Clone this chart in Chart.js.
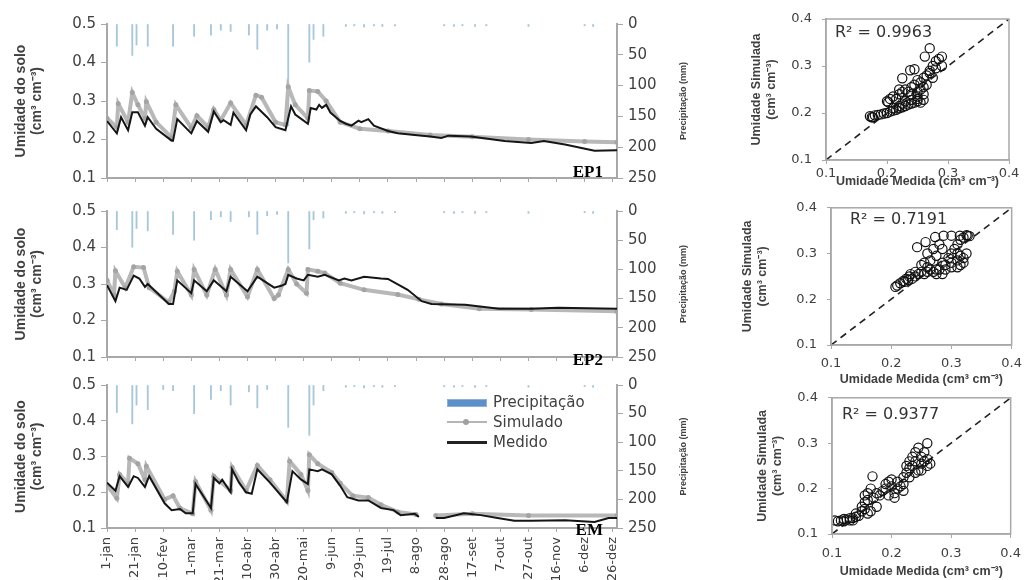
<!DOCTYPE html>
<html lang="pt">
<head>
<meta charset="utf-8">
<title>Umidade do solo simulada e medida</title>
<script src="https://cdn.jsdelivr.net/npm/chart.js@4.4.1/dist/chart.umd.min.js"></script>
<style>
  body { margin: 0; background: #fff; width: 1029px; height: 580px; position: relative; overflow: hidden; }
  .painel { position: absolute; }
  #legenda { position: absolute; left: 447px; top: 392px; font: 15px "DejaVu Sans", sans-serif; color: #404040; }
  #legenda .item { height: 20px; line-height: 20px; display: flex; align-items: center; }
  #legenda .amostra { width: 40px; margin-right: 6px; position: relative; height: 20px; }
  #legenda .chuva::after { content: ""; position: absolute; left: 0; right: 0; top: 7px; height: 6px; background: #5d8fc8; border: 1px solid #8fb0d6; }
  #legenda .sim::before { content: ""; position: absolute; left: 0; right: 0; top: 9px; height: 2px; background: #b5b5b5; }
  #legenda .sim::after { content: ""; position: absolute; left: 16px; top: 7px; width: 6px; height: 6px; border-radius: 50%; background: #a0a0a0; }
  #legenda .med::after { content: ""; position: absolute; left: 0; right: 0; top: 9px; height: 2.5px; background: #222; }
</style>
</head>
<body>
<div class="painel" style="left:0;top:10px;width:700px;height:182px"><canvas id="serieEP1"></canvas></div>
<div class="painel" style="left:0;top:197px;width:700px;height:174px"><canvas id="serieEP2"></canvas></div>
<div class="painel" style="left:0;top:371px;width:700px;height:209px"><canvas id="serieEM"></canvas></div>
<div class="painel" style="left:740px;top:0;width:289px;height:200px"><canvas id="dispEP1"></canvas></div>
<div class="painel" style="left:740px;top:190px;width:289px;height:200px"><canvas id="dispEP2"></canvas></div>
<div class="painel" style="left:740px;top:380px;width:289px;height:200px"><canvas id="dispEM"></canvas></div>
<div id="legenda">
  <div class="item"><span class="amostra chuva"></span>Precipitação</div>
  <div class="item"><span class="amostra sim"></span>Simulado</div>
  <div class="item"><span class="amostra med"></span>Medido</div>
</div>
<script>
// datas do eixo x (a cada 20 dias)
const rotulosDatas = ['1-jan', '21-jan', '10-fev', '1-mar', '21-mar', '10-abr', '30-abr', '20-mai', '9-jun',
  '29-jun', '19-jul', '8-ago', '28-ago', '17-set', '7-out', '27-out', '16-nov', '6-dez', '26-dez'];

// EP1 - umidade medida e simulada (dia do ano, cm3 cm-3)
const ep1MedDias = [0, 7, 10, 15, 18, 22, 27, 29, 35, 46, 47, 50, 60, 64, 72, 76, 81, 83, 88, 90, 99, 102, 106, 114, 120, 127, 131, 134, 143, 145, 149, 151, 153, 156, 159, 166, 170, 174, 179, 181, 186, 190, 200, 207, 219, 230, 238, 243, 259, 283, 302, 311, 326, 347, 363];
const ep1Medido = [0.248, 0.216, 0.258, 0.224, 0.271, 0.271, 0.236, 0.258, 0.228, 0.197, 0.197, 0.253, 0.216, 0.248, 0.220, 0.273, 0.245, 0.250, 0.238, 0.270, 0.224, 0.265, 0.286, 0.258, 0.232, 0.224, 0.286, 0.265, 0.241, 0.282, 0.278, 0.290, 0.282, 0.290, 0.270, 0.248, 0.241, 0.236, 0.249, 0.245, 0.253, 0.236, 0.222, 0.216, 0.212, 0.208, 0.204, 0.210, 0.208, 0.196, 0.191, 0.196, 0.187, 0.171, 0.172];
const ep1SimDias = [0, 7, 8, 15, 18, 22, 27, 28, 35, 46, 49, 60, 64, 72, 76, 81, 88, 99, 106, 110, 120, 127, 129, 134, 143, 144, 150, 156, 166, 180, 200, 230, 260, 300, 340, 363];
const ep1Simulado = [0.255, 0.232, 0.293, 0.245, 0.322, 0.290, 0.255, 0.298, 0.245, 0.205, 0.290, 0.230, 0.262, 0.232, 0.278, 0.250, 0.295, 0.238, 0.315, 0.310, 0.245, 0.238, 0.337, 0.290, 0.255, 0.327, 0.325, 0.300, 0.245, 0.228, 0.222, 0.212, 0.207, 0.200, 0.195, 0.193];
const ep1ChuvaDias = [7, 18, 21, 29, 47, 62, 74, 81, 88, 101, 107, 114, 121, 129, 144, 147, 154, 170, 176, 183, 190, 196, 205, 240, 247, 253, 262, 270, 300, 340, 346];
const ep1Chuva = [36, 51, 34, 36, 36, 20, 18, 10, 12, 18, 41, 10, 8, 165, 62, 25, 20, 4, 3, 5, 3, 4, 3, 3, 4, 3, 4, 3, 4, 3, 4];

// EP2
const ep2MedDias = [0, 6, 9, 14, 19, 23, 27, 29, 44, 47, 50, 60, 62, 71, 76, 85, 88, 100, 107, 119, 124, 127, 129, 135, 140, 143, 150, 155, 165, 169, 174, 183, 195, 200, 214, 224, 231, 255, 279, 302, 321, 363];
const ep2Medido = [0.297, 0.253, 0.290, 0.284, 0.323, 0.315, 0.292, 0.300, 0.245, 0.245, 0.310, 0.275, 0.310, 0.280, 0.310, 0.280, 0.320, 0.280, 0.320, 0.290, 0.295, 0.300, 0.325, 0.315, 0.310, 0.325, 0.320, 0.325, 0.310, 0.315, 0.310, 0.320, 0.315, 0.314, 0.284, 0.253, 0.245, 0.243, 0.232, 0.232, 0.235, 0.232];
const ep2SimDias = [0, 5, 6, 13, 19, 26, 30, 44, 48, 50, 60, 62, 71, 77, 85, 88, 100, 107, 119, 122, 129, 135, 142, 143, 150, 155, 166, 183, 207, 222, 238, 265, 302, 363];
const ep2Simulado = [0.310, 0.270, 0.336, 0.290, 0.347, 0.345, 0.290, 0.250, 0.280, 0.335, 0.270, 0.340, 0.270, 0.340, 0.270, 0.340, 0.265, 0.340, 0.260, 0.270, 0.340, 0.300, 0.275, 0.340, 0.335, 0.330, 0.302, 0.284, 0.271, 0.258, 0.245, 0.232, 0.230, 0.225];
const ep2ChuvaDias = [7, 18, 21, 29, 47, 62, 74, 81, 88, 101, 107, 114, 121, 129, 144, 147, 154, 170, 176, 183, 190, 196, 205, 240, 247, 253, 262, 270, 300, 340, 346];
const ep2Chuva = [32, 62, 30, 34, 40, 50, 15, 10, 18, 10, 40, 8, 6, 89, 65, 15, 12, 4, 3, 5, 3, 4, 3, 3, 4, 3, 4, 3, 4, 3, 4];

// EM (falha de leitura no fim de agosto)
const emMedDias = [0, 6, 9, 15, 19, 22, 27, 30, 41, 46, 52, 56, 61, 63, 74, 76, 80, 82, 88, 89, 94, 99, 103, 107, 116, 128, 132, 138, 143, 144, 150, 153, 160, 166, 171, 179, 186, 195, 204, 209, 219, 222, 228, 234, 240, 254, 266, 278, 290, 302, 326, 347, 357, 363];
const emMedido = [0.227, 0.204, 0.245, 0.215, 0.245, 0.240, 0.215, 0.245, 0.169, 0.150, 0.153, 0.141, 0.141, 0.223, 0.156, 0.240, 0.225, 0.235, 0.200, 0.264, 0.227, 0.200, 0.196, 0.264, 0.227, 0.172, 0.259, 0.236, 0.223, 0.264, 0.259, 0.264, 0.250, 0.218, 0.186, 0.177, 0.177, 0.156, 0.150, 0.136, 0.140, 0.131, null, 0.128, 0.128, 0.141, 0.136, 0.128, 0.120, 0.120, 0.122, 0.117, 0.128, 0.128];
const emSimDias = [0, 7, 9, 15, 16, 22, 27, 28, 41, 47, 52, 61, 63, 74, 76, 88, 89, 99, 107, 116, 128, 130, 138, 143, 144, 150, 160, 166, 175, 186, 195, 207, 220, 228, 234, 260, 300, 363];
const emSimulado = [0.220, 0.183, 0.250, 0.225, 0.295, 0.280, 0.235, 0.273, 0.180, 0.190, 0.155, 0.140, 0.230, 0.150, 0.245, 0.205, 0.270, 0.205, 0.275, 0.235, 0.175, 0.287, 0.250, 0.205, 0.305, 0.280, 0.255, 0.225, 0.190, 0.185, 0.165, 0.145, 0.138, null, 0.135, 0.140, 0.135, 0.135];
const emChuvaDias = [7, 18, 21, 29, 40, 47, 62, 74, 81, 88, 101, 107, 114, 129, 144, 147, 154, 170, 176, 183, 190, 196, 205, 240, 247, 253, 262, 270, 300, 340, 346];
const emChuva = [48, 68, 35, 43, 8, 10, 50, 25, 10, 35, 12, 40, 8, 74, 88, 35, 10, 4, 3, 5, 3, 4, 3, 3, 4, 3, 4, 3, 4, 3, 4];

// dispersão medido x simulado
const dispEP1Medido = [0.172, 0.175, 0.18, 0.185, 0.19, 0.195, 0.20, 0.205, 0.21, 0.21, 0.215, 0.22, 0.22, 0.225, 0.23, 0.235, 0.24, 0.245, 0.25, 0.255, 0.26, 0.25, 0.24, 0.23, 0.225, 0.20, 0.205, 0.21, 0.22, 0.225, 0.23, 0.235, 0.24, 0.245, 0.25, 0.255, 0.26, 0.265, 0.27, 0.275, 0.28, 0.285, 0.29, 0.29, 0.28, 0.27, 0.26, 0.265, 0.275, 0.27, 0.262, 0.245, 0.238, 0.225, 0.202, 0.177, 0.22, 0.215, 0.24, 0.25, 0.255, 0.26, 0.25];
const dispEP1Simulado = [0.193, 0.191, 0.195, 0.196, 0.197, 0.199, 0.20, 0.203, 0.205, 0.21, 0.207, 0.21, 0.215, 0.212, 0.215, 0.218, 0.22, 0.222, 0.225, 0.222, 0.228, 0.23, 0.228, 0.225, 0.22, 0.225, 0.23, 0.235, 0.24, 0.245, 0.25, 0.245, 0.255, 0.26, 0.27, 0.265, 0.275, 0.28, 0.29, 0.30, 0.31, 0.315, 0.32, 0.30, 0.295, 0.285, 0.255, 0.26, 0.275, 0.338, 0.32, 0.293, 0.291, 0.274, 0.223, 0.191, 0.25, 0.23, 0.24, 0.245, 0.25, 0.24, 0.235];
const dispEP2Medido = [0.207, 0.21, 0.215, 0.22, 0.222, 0.225, 0.23, 0.228, 0.235, 0.24, 0.245, 0.25, 0.24, 0.232, 0.255, 0.26, 0.265, 0.27, 0.275, 0.28, 0.29, 0.30, 0.31, 0.315, 0.32, 0.31, 0.30, 0.29, 0.285, 0.295, 0.30, 0.305, 0.31, 0.315, 0.32, 0.325, 0.33, 0.327, 0.314, 0.30, 0.287, 0.273, 0.257, 0.243, 0.26, 0.27, 0.28, 0.285, 0.275, 0.265, 0.255, 0.25, 0.26, 0.32, 0.325, 0.315, 0.31, 0.285, 0.275];
const dispEP2Simulado = [0.227, 0.23, 0.235, 0.24, 0.238, 0.245, 0.25, 0.242, 0.245, 0.25, 0.255, 0.26, 0.26, 0.255, 0.255, 0.26, 0.265, 0.26, 0.265, 0.265, 0.265, 0.27, 0.27, 0.275, 0.28, 0.285, 0.28, 0.275, 0.28, 0.29, 0.30, 0.31, 0.32, 0.33, 0.335, 0.34, 0.338, 0.339, 0.339, 0.339, 0.339, 0.336, 0.325, 0.314, 0.30, 0.31, 0.32, 0.31, 0.295, 0.285, 0.28, 0.275, 0.27, 0.29, 0.30, 0.295, 0.30, 0.255, 0.255];
const dispEMMedido = [0.105, 0.11, 0.115, 0.12, 0.12, 0.125, 0.13, 0.135, 0.14, 0.14, 0.145, 0.15, 0.15, 0.155, 0.155, 0.155, 0.16, 0.16, 0.165, 0.168, 0.17, 0.175, 0.18, 0.185, 0.19, 0.19, 0.195, 0.20, 0.20, 0.205, 0.21, 0.21, 0.215, 0.22, 0.22, 0.225, 0.225, 0.23, 0.23, 0.235, 0.235, 0.24, 0.24, 0.245, 0.245, 0.25, 0.25, 0.255, 0.255, 0.26, 0.26, 0.265, 0.26, 0.25, 0.24, 0.23, 0.22, 0.205, 0.195, 0.175, 0.165, 0.16, 0.13, 0.135];
const dispEMSimulado = [0.13, 0.128, 0.13, 0.128, 0.133, 0.132, 0.135, 0.135, 0.138, 0.145, 0.14, 0.15, 0.16, 0.155, 0.17, 0.185, 0.19, 0.175, 0.20, 0.227, 0.18, 0.19, 0.185, 0.195, 0.20, 0.21, 0.215, 0.22, 0.205, 0.19, 0.20, 0.215, 0.205, 0.21, 0.225, 0.235, 0.25, 0.245, 0.26, 0.27, 0.25, 0.28, 0.26, 0.24, 0.29, 0.27, 0.255, 0.26, 0.28, 0.30, 0.265, 0.255, 0.25, 0.24, 0.235, 0.225, 0.195, 0.18, 0.185, 0.16, 0.15, 0.145, 0.13, 0.13];

const pares = (xs, ys) => xs.map((x, i) => ({ x: x, y: ys[i] }));

Chart.defaults.font.family = '"DejaVu Sans", sans-serif';
Chart.defaults.color = '#404040';
const corEixo = '#a8a8a8';
const fonteTitulo = '"Liberation Sans", Arial, sans-serif';

// nome do ponto (EP1, EP2, EM) e título do eixo da direita
const rotulosPainel = {
  id: 'rotulosPainel',
  afterDraw(chart, args, o) {
    const { ctx, chartArea: a } = chart;
    ctx.save();
    ctx.font = 'bold 17px "Liberation Serif", "Times New Roman", serif';
    ctx.fillStyle = '#000';
    ctx.textAlign = 'right';
    ctx.fillText(o.texto, a.right - 14, a.bottom + o.dy);
    ctx.translate(a.right + 67, (a.top + a.bottom) / 2);
    ctx.rotate(-Math.PI / 2);
    ctx.font = 'bold 9px ' + fonteTitulo;
    ctx.fillStyle = '#404040';
    ctx.textAlign = 'center';
    ctx.textBaseline = 'middle';
    ctx.fillText('Precipitação (mm)', 0, 0);
    ctx.restore();
  }
};

// moldura da área e texto do R²
const moldura = {
  id: 'moldura',
  afterDraw(chart, args, o) {
    const { ctx, chartArea: a } = chart;
    ctx.save();
    ctx.strokeStyle = corEixo;
    ctx.lineWidth = 1.5;
    ctx.strokeRect(a.left, a.top, a.right - a.left, a.bottom - a.top);
    ctx.font = '16px "DejaVu Sans", sans-serif';
    ctx.fillStyle = '#333';
    ctx.textBaseline = 'middle';
    ctx.fillText(o.texto, a.left + o.dx, a.top + o.dy);
    ctx.restore();
  }
};

function graficoSerie(id, medDias, med, simDias, sim, chuvaDias, chuva, nome, nomeDy, comDatas) {
  return new Chart(document.getElementById(id), {
    type: 'bar',
    data: {
      datasets: [
        { type: 'line', label: 'Medido', data: pares(medDias, med), yAxisID: 'y',
          borderColor: '#151515', borderWidth: 2, pointRadius: 0 },
        { type: 'line', label: 'Simulado', data: pares(simDias, sim), yAxisID: 'y',
          borderColor: '#b8b8b8', borderWidth: 4, pointRadius: 2.5,
          pointBackgroundColor: '#a4a4a4', pointBorderWidth: 0 },
        { type: 'bar', label: 'Precipitação', data: pares(chuvaDias, chuva), yAxisID: 'y2',
          backgroundColor: '#a7c7da', barThickness: 1.2, grouped: false }
      ]
    },
    options: {
      responsive: true, maintainAspectRatio: false, animation: false,
      layout: { padding: { top: 10, right: 0, bottom: 0, left: 0 } },
      plugins: { legend: { display: false }, tooltip: { enabled: false },
        rotulosPainel: { texto: nome, dy: nomeDy } },
      scales: {
        x: {
          type: 'linear', min: 0, max: 363, offset: false,
          grid: { drawOnChartArea: false, offset: false, tickLength: 4, color: corEixo },
          border: { color: corEixo, width: 2 },
          afterBuildTicks: s => { s.ticks = rotulosDatas.map((_, i) => ({ value: i * 20 })); },
          afterFit: s => { s.height = comDatas ? 52 : 10; },
          ticks: { display: comDatas, autoSkip: false, minRotation: 90, maxRotation: 90,
            padding: 5, font: { size: 13 }, callback: (v, i) => rotulosDatas[i] }
        },
        y: {
          position: 'left', min: 0.1, max: 0.5,
          afterFit: s => { s.width = 107; },
          grid: { drawOnChartArea: false, tickLength: 6, color: corEixo },
          border: { color: corEixo, width: 2 },
          ticks: { stepSize: 0.1, font: { size: 15 }, padding: 5, callback: v => v.toFixed(1) },
          title: { display: true, text: ['Umidade do solo', '(cm³ cm⁻³)'], color: '#404040',
            font: { family: fonteTitulo, size: 14, weight: 'bold', lineHeight: 1.15 }, padding: { top: 13 } }
        },
        y2: {
          position: 'right', min: 0, max: 250, reverse: true,
          afterFit: s => { s.width = 83; },
          grid: { drawOnChartArea: false, tickLength: 6, color: corEixo },
          border: { color: corEixo, width: 2 },
          ticks: { stepSize: 50, font: { size: 15 }, padding: 5 }
        }
      }
    },
    plugins: [rotulosPainel]
  });
}

function graficoDispersao(id, medido, simulado, r2, c) {
  return new Chart(document.getElementById(id), {
    type: 'scatter',
    data: {
      datasets: [
        { label: 'Dados', data: pares(medido, simulado), pointRadius: 4.6,
          borderColor: '#111', borderWidth: 1.2, backgroundColor: 'rgba(0,0,0,0)' },
        { type: 'line', label: '1:1', data: [{ x: 0.1, y: 0.1 }, { x: 0.4, y: 0.4 }],
          borderColor: '#222', borderWidth: 1.6, borderDash: [7, 5], pointRadius: 0 }
      ]
    },
    options: {
      responsive: true, maintainAspectRatio: false, animation: false,
      layout: { padding: { top: c.topo, right: c.direita, bottom: 0, left: 0 } },
      plugins: { legend: { display: false }, tooltip: { enabled: false },
        moldura: { texto: 'R² = ' + r2, dx: c.r2dx, dy: c.r2dy } },
      scales: {
        x: {
          min: 0.1, max: 0.4,
          afterFit: s => { s.height = c.alturaX; },
          grid: { drawOnChartArea: false, tickLength: 4, color: corEixo },
          border: { color: corEixo, width: 1.5 },
          ticks: { stepSize: 0.1, font: { size: 13 }, padding: c.padX, callback: v => v.toFixed(1) },
          title: { display: true, text: 'Umidade Medida (cm³ cm⁻³)', color: '#404040',
            font: { family: fonteTitulo, size: 12.5, weight: 'bold' }, padding: { top: 0, bottom: c.tituloX } }
        },
        y: {
          min: 0.1, max: 0.4,
          afterFit: s => { s.width = c.larguraY; },
          grid: { drawOnChartArea: false, tickLength: 4, color: corEixo },
          border: { color: corEixo, width: 1.5 },
          ticks: { stepSize: 0.1, font: { size: 13 }, padding: 10, callback: v => v.toFixed(1) },
          title: { display: true, text: ['Umidade Simulada', '(cm³ cm⁻³)'], color: '#404040',
            font: { family: fonteTitulo, size: 12.5, weight: 'bold', lineHeight: 1.2 }, padding: { top: c.tituloY } }
        }
      }
    },
    plugins: [moldura]
  });
}

graficoSerie('serieEP1', ep1MedDias, ep1Medido, ep1SimDias, ep1Simulado, ep1ChuvaDias, ep1Chuva, 'EP1', -1, false);
graficoSerie('serieEP2', ep2MedDias, ep2Medido, ep2SimDias, ep2Simulado, ep2ChuvaDias, ep2Chuva, 'EP2', 8, false);
graficoSerie('serieEM', emMedDias, emMedido, emSimDias, emSimulado, emChuvaDias, emChuva, 'EM', 7, true);

graficoDispersao('dispEP1', dispEP1Medido, dispEP1Simulado, '0.9963',
  { topo: 19, direita: 20, larguraY: 86, alturaX: 40, padX: 2, tituloX: 10.5, tituloY: 9.5, r2dx: 9, r2dy: 13.5 });
graficoDispersao('dispEP2', dispEP2Medido, dispEP2Simulado, '0.7191',
  { topo: 15, direita: 16, larguraY: 91, alturaX: 45, padX: 7, tituloX: 2.5, tituloY: 0.5, r2dx: 19, r2dy: 12.5 });
graficoDispersao('dispEM', dispEMMedido, dispEMSimulado, '0.9377',
  { topo: 15, direita: 14, larguraY: 92, alturaX: 46, padX: 8, tituloX: 0.5, tituloY: 15.5, r2dx: 10, r2dy: 17.5 });
</script>
</body>
</html>
